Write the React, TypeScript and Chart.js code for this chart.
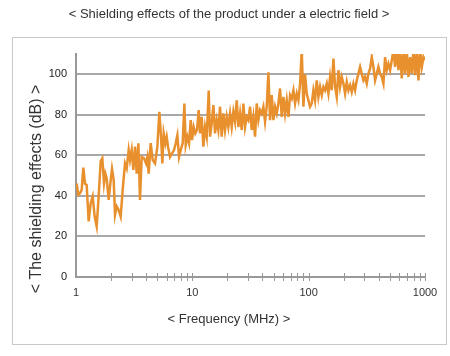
import React, { useEffect, useRef } from "react";
import { Chart, registerables } from "chart.js";

Chart.register(...registerables);

const FREQ_MHZ = [
  1.013, 1.047, 1.082, 1.119, 1.156, 1.195, 1.235, 1.285, 1.337, 1.391,
  1.447, 1.505, 1.566, 1.63, 1.684, 1.741, 1.788, 1.835, 1.909, 1.974,
  2.04, 2.108, 2.165, 2.237, 2.327, 2.421, 2.519, 2.638, 2.727, 2.837,
  2.913, 3.011, 3.112, 3.217, 3.325, 3.436, 3.55, 3.67, 3.843, 3.999,
  4.106, 4.216, 4.386, 4.563, 4.779, 5.004, 5.206, 5.382, 5.525, 5.673,
  5.864, 6.02, 6.181, 6.431, 6.691, 6.961, 7.194, 7.436, 7.686, 7.943,
  8.264, 8.541, 8.77, 9.064, 9.368, 9.683, 9.94, 10.27, 10.62, 10.97,
  11.34, 11.65, 12.04, 12.44, 12.86, 13.29, 13.83, 14.2, 14.67, 15.17,
  15.67, 16.2, 16.74, 17.31, 17.89, 18.49, 19.11, 19.75, 20.4, 21.1,
  21.8, 22.53, 23.29, 24.07, 24.88, 25.72, 26.58, 27.47, 28.39, 29.34,
  30.32, 31.34, 32.39, 33.47, 34.6, 35.76, 36.96, 38.19, 39.48, 40.8,
  42.17, 43.59, 45.06, 46.57, 48.14, 49.75, 51.42, 53.15, 54.93, 56.77,
  58.68, 60.65, 62.69, 64.79, 66.97, 69.21, 71.54, 73.94, 76.42, 78.98,
  81.64, 84.38, 87.21, 90.15, 93.13, 96.25, 99.5, 102.8, 106.3, 109.8,
  113.5, 117.3, 121.3, 125.3, 129.6, 133.9, 138.4, 143.1, 147.8, 152.8,
  157.9, 163.2, 168.7, 174.3, 180.2, 186.2, 192.5, 199.0, 205.6, 212.5,
  219.6, 227.0, 234.6, 242.4, 250.6, 259.0, 267.7, 276.7, 285.9, 295.5,
  305.5, 315.7, 326.3, 337.3, 348.6, 360.3, 372.4, 384.8, 397.8, 411.1,
  424.9, 439.2, 453.9, 469.1, 484.9, 501.2, 518.0, 535.4, 553.4, 572.0,
  591.2, 611.0, 631.5, 652.7, 674.6, 697.3, 720.7, 744.9, 769.9, 795.8,
  822.5, 850.1, 878.7, 908.2, 938.7, 970.2, 1000,
];

const SHIELDING_DB = [
  46.2, 40.5, 41.3, 43, 54, 46, 45.4, 27.4, 36.4, 39.7,
  29.8, 25, 39.7, 57, 58.5, 46.2, 51, 48.7, 38, 46.2,
  53.3, 47.9, 30.7, 34.8, 33, 29.8, 43, 56, 53.6, 62.6,
  57.7, 62.6, 52.8, 64.3, 51, 66, 38, 59.2, 58.5, 56,
  59.2, 51, 66, 57.7, 56, 64.3, 81.5, 69.2, 56, 70.8,
  66, 69.2, 64.3, 59.2, 61, 62.6, 66, 70, 59.2, 62.6,
  66, 85.6, 65, 69.2, 66, 77.4, 67.5, 74, 70.8, 72.5,
  82.3, 70.8, 79, 64.3, 74, 69.2, 92, 69.2, 75.7, 84.8,
  70.8, 77.4, 72.5, 84, 69.2, 80.7, 72.5, 79, 74, 80.7,
  74, 81.5, 76.6, 87.2, 74, 80.7, 72.5, 85.6, 74, 79,
  77.4, 84, 72.5, 79, 69.2, 85.6, 77.4, 82.3, 80.7, 84,
  76.6, 84, 101, 77.4, 89.7, 77.4, 84, 80.7, 85.6, 93,
  79, 88.9, 80.7, 87.2, 79, 89.7, 88, 92.1, 85.6, 90.5,
  87.2, 95.4, 112, 84, 100, 90.5, 87.2, 84, 85.6, 92.1,
  87.2, 97, 88.9, 93.8, 89.7, 93.8, 92.1, 95.4, 90.5, 98.7,
  92.1, 107.7, 93.8, 88.9, 102, 93.8, 98.7, 95.4, 90.5, 96.2,
  92.1, 94.6, 91.3, 95.4, 92.1, 97, 100.3, 103.6, 100.3, 97,
  98.7, 95.4, 100.3, 102.8, 108.5, 103.6, 97, 100.3, 103.6, 100.3,
  98.7, 95.4, 108.5, 102, 105.2, 102, 106.9, 112, 103.6, 112,
  102, 112, 97.9, 112, 100.3, 112, 98.7, 108.5, 100.3, 112,
  99.5, 112, 97, 112, 103.6, 108.5, 106.9,
];

const X_TICKS = [
  1, 2, 3, 4, 5, 6, 7, 8, 9,
  10, 20, 30, 40, 50, 60, 70, 80, 90,
  100, 200, 300, 400, 500, 600, 700, 800, 900, 1000,
];
const X_LABELED = [1, 10, 100, 1000];
const Y_TICKS = [0, 20, 40, 60, 80, 100];

const TITLE = "< Shielding effects of the product under a electric field >";
const X_TITLE = "< Frequency (MHz) >";
const Y_TITLE = "< The shielding effects (dB) >";

const FONT = '"Liberation Sans", Arial, sans-serif';

export default function App() {
  const ref = useRef<HTMLCanvasElement>(null);

  useEffect(() => {
    if (!ref.current) return;

    const decor = {
      id: "decor",
      beforeDraw(chart: any) {
        const ctx = chart.ctx;
        ctx.save();
        ctx.fillStyle = "#ffffff";
        ctx.fillRect(0, 0, chart.width, chart.height);
        ctx.strokeStyle = "#c8c8c8";
        ctx.lineWidth = 1;
        ctx.strokeRect(12.5, 37.5, 434, 307);
        ctx.restore();
      },
      afterDraw(chart: any) {
        const ctx = chart.ctx;
        const xs = chart.scales.x;
        const bottom = chart.chartArea.bottom;
        ctx.save();
        ctx.strokeStyle = "#999999";
        ctx.lineWidth = 1;
        xs.ticks.forEach((t: any, i: number) => {
          if (i === 0) return;
          const px = Math.round(xs.getPixelForValue(t.value)) + 0.5;
          ctx.beginPath();
          ctx.moveTo(px, bottom - 4);
          ctx.lineTo(px, bottom + 4);
          ctx.stroke();
        });
        ctx.fillStyle = "#333333";
        ctx.textAlign = "center";
        ctx.textBaseline = "middle";
        ctx.font = `13px ${FONT}`;
        ctx.fillText(TITLE, 229, 14);
        ctx.fillText(X_TITLE, 229, 319);
        ctx.translate(37, 189);
        ctx.rotate(-Math.PI / 2);
        ctx.font = `16px ${FONT}`;
        ctx.fillText(Y_TITLE, 0, 0);
        ctx.restore();
      },
    };

    const chart = new Chart(ref.current, {
      type: "line",
      data: {
        datasets: [
          {
            data: FREQ_MHZ.map((f, i) => ({ x: f, y: SHIELDING_DB[i] })),
            borderColor: "#e8902e",
            borderWidth: 2.5,
            pointRadius: 0,
            tension: 0,
            fill: false,
          },
        ],
      },
      options: {
        responsive: false,
        animation: false,
        parsing: true,
        layout: { padding: { left: 12, right: 25, top: 54, bottom: 11 } },
        plugins: {
          legend: { display: false },
          tooltip: { enabled: false },
          title: { display: false },
        },
        scales: {
          x: {
            type: "logarithmic",
            min: 1,
            max: 1000,
            afterBuildTicks: (s: any) => {
              s.ticks = X_TICKS.map((v) => ({ value: v }));
            },
            afterFit: (s: any) => {
              s.height = 68;
              s.paddingLeft = 0;
              s.paddingRight = 0;
            },
            grid: { drawOnChartArea: false, drawTicks: false },
            border: { display: true, color: "#999999", width: 2 },
            ticks: {
              autoSkip: false,
              maxRotation: 0,
              minRotation: 0,
              padding: 9,
              color: "#333333",
              font: { family: FONT, size: 11 },
              callback: (v: any) => (X_LABELED.includes(Number(v)) ? String(v) : ""),
            },
          },
          y: {
            type: "linear",
            min: 0,
            max: 110,
            afterBuildTicks: (s: any) => {
              s.ticks = Y_TICKS.map((v) => ({ value: v }));
            },
            afterFit: (s: any) => {
              s.width = 64;
              s.paddingTop = 0;
              s.paddingBottom = 0;
            },
            grid: { color: "#a8a8a8", lineWidth: 2, drawTicks: false },
            border: { display: true, color: "#999999", width: 2 },
            ticks: {
              padding: 9,
              color: "#222222",
              font: { family: FONT, size: 11 },
            },
          },
        },
      },
      plugins: [decor],
    } as any);

    return () => chart.destroy();
  }, []);

  return (
    <div style={{ position: "absolute", left: 0, top: 0, width: 450, height: 356 }}>
      <canvas ref={ref} width={450} height={356} />
    </div>
  );
}
